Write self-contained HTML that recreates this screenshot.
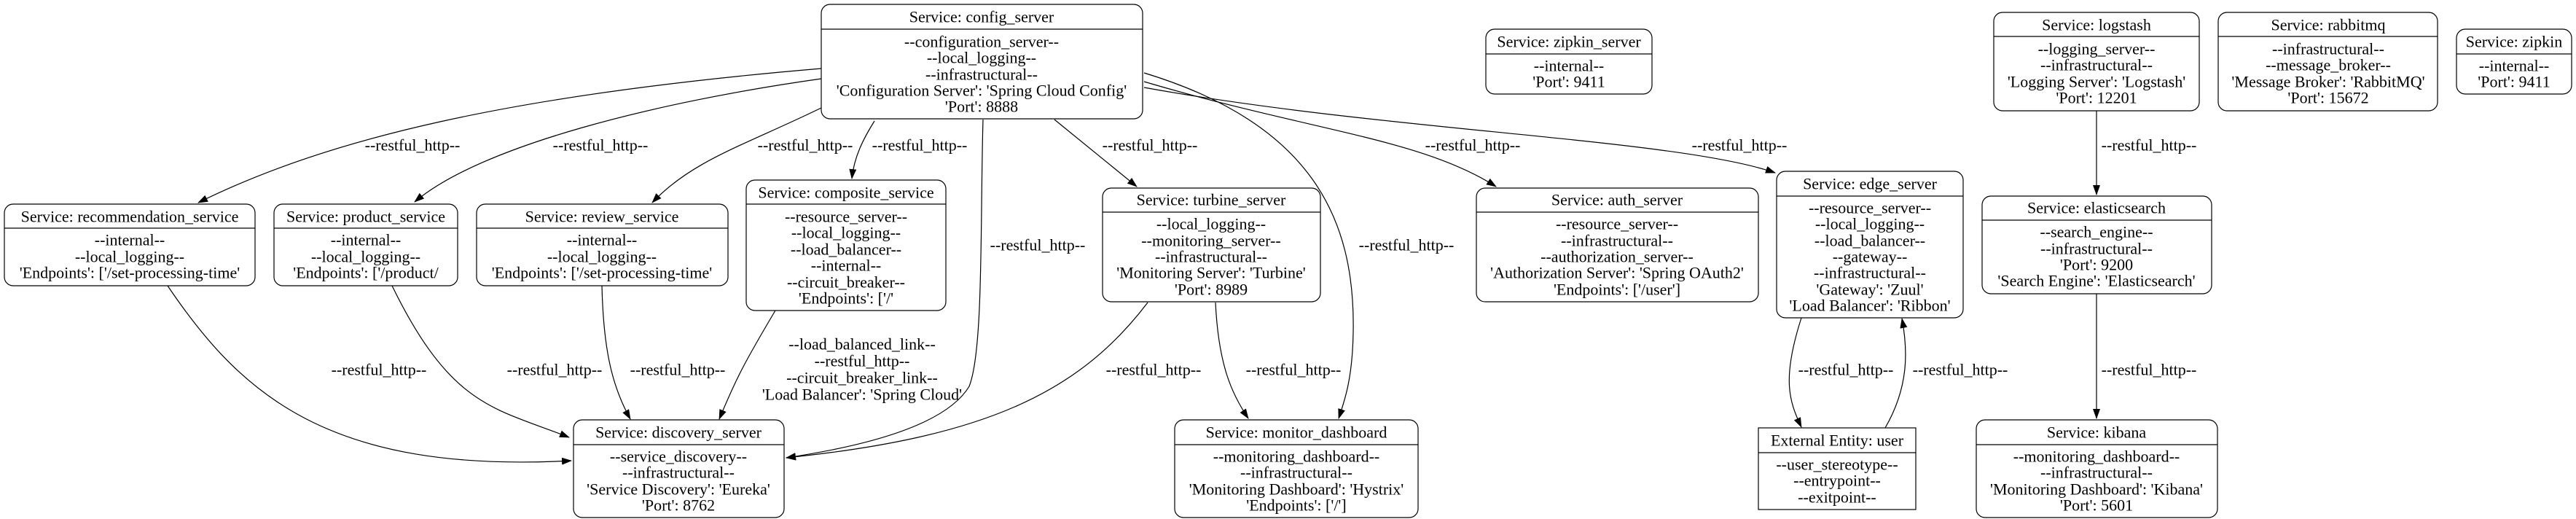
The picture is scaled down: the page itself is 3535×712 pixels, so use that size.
<!DOCTYPE html>
<html><head><meta charset="utf-8"><style>
html,body{margin:0;padding:0;background:#fff;}
svg{display:block;}
text{font-family:"Liberation Serif",serif;font-size:22px;fill:#000;}
</style></head><body>
<svg width="3535" height="712" viewBox="0 0 3535 712" xmlns="http://www.w3.org/2000/svg">
<defs><marker id="a" markerWidth="14" markerHeight="10" refX="13" refY="5" orient="auto" markerUnits="userSpaceOnUse"><path d="M0,0 L14,5 L0,10 Z" fill="#000"/></marker></defs>
<g fill="none" stroke="#000" stroke-width="1.2" marker-end="url(#a)">
<path d="M1127,94 C 700,130 450,190 272,278"/>
<path d="M1127,108 C 900,140 660,200 569,277"/>
<path d="M1127,148 C 1020,200 950,220 895,278"/>
<path d="M1200,166 C 1185,190 1172,215 1169,245"/>
<path d="M1349,164 C 1345,300 1350,480 1330,530 C 1300,580 1200,610 1079,628"/>
<path d="M1447,164 L1560,256"/>
<path d="M1570,100 C 1800,170 1860,300 1857,456 C 1856,520 1845,550 1837,574"/>
<path d="M1570,112 C 1800,180 1950,190 2053,256"/>
<path d="M1570,120 C 1900,180 2300,190 2436,237"/>
<path d="M230,392 C 330,540 450,650 784,632"/>
<path d="M538,392 C 620,560 680,560 781,600"/>
<path d="M826,392 C 828,480 840,530 865,575"/>
<path d="M1064,426 C 1020,500 1010,520 987,575"/>
<path d="M1575,415 C 1480,540 1350,600 1079,628"/>
<path d="M1668,415 C 1672,500 1690,540 1713,574"/>
<path d="M2472,436 C 2445,520 2455,550 2472,586"/>
<path d="M2587,587 C 2620,530 2618,480 2610,437"/>
<path d="M2877,152 L2877,267"/>
<path d="M2877,403 L2877,574"/>
</g>
<g text-anchor="middle" dominant-baseline="central">
<text x="566" y="199">--restful_http--</text>
<text x="824" y="199">--restful_http--</text>
<text x="1105" y="199">--restful_http--</text>
<text x="1262" y="199">--restful_http--</text>
<text x="1578" y="199">--restful_http--</text>
<text x="2021" y="199">--restful_http--</text>
<text x="2387" y="199">--restful_http--</text>
<text x="2949" y="199">--restful_http--</text>
<text x="1424" y="336">--restful_http--</text>
<text x="1930" y="336">--restful_http--</text>
<text x="520" y="507">--restful_http--</text>
<text x="761" y="507">--restful_http--</text>
<text x="930" y="507">--restful_http--</text>
<text x="1583" y="507">--restful_http--</text>
<text x="1775" y="507">--restful_http--</text>
<text x="2533" y="507">--restful_http--</text>
<text x="2690" y="507">--restful_http--</text>
<text x="2949" y="507">--restful_http--</text>
<text x="1183" y="472">--load_balanced_link--</text>
<text x="1183" y="495">--restful_http--</text>
<text x="1183" y="518">--circuit_breaker_link--</text>
<text x="1183" y="541">'Load Balancer': 'Spring Cloud'</text>
</g>
<g fill="#fff" stroke="#000" stroke-width="1.2">
<rect x="1127" y="6" width="441" height="157" rx="12"/><line x1="1127" y1="40" x2="1568" y2="40"/>
<rect x="6" y="280" width="344" height="112" rx="12"/><line x1="6" y1="313" x2="350" y2="313"/>
<rect x="376" y="280" width="252" height="112" rx="12"/><line x1="376" y1="313" x2="628" y2="313"/>
<rect x="654" y="280" width="345" height="112" rx="12"/><line x1="654" y1="313" x2="999" y2="313"/>
<rect x="1024" y="247" width="274" height="179" rx="12"/><line x1="1024" y1="280" x2="1298" y2="280"/>
<rect x="787" y="576" width="289" height="134" rx="12"/><line x1="787" y1="610" x2="1076" y2="610"/>
<rect x="2039" y="40" width="228" height="89" rx="12"/><line x1="2039" y1="74" x2="2267" y2="74"/>
<rect x="1513" y="258" width="299" height="156" rx="12"/><line x1="1513" y1="291" x2="1812" y2="291"/>
<rect x="2026" y="258" width="387" height="156" rx="12"/><line x1="2026" y1="291" x2="2413" y2="291"/>
<rect x="1612" y="576" width="334" height="134" rx="12"/><line x1="1612" y1="610" x2="1946" y2="610"/>
<rect x="2736" y="17" width="282" height="135" rx="12"/><line x1="2736" y1="50" x2="3018" y2="50"/>
<rect x="3044" y="17" width="301" height="135" rx="12"/><line x1="3044" y1="50" x2="3345" y2="50"/>
<rect x="3371" y="40" width="158" height="89" rx="12"/><line x1="3371" y1="74" x2="3529" y2="74"/>
<rect x="2438" y="235" width="256" height="201" rx="12"/><line x1="2438" y1="269" x2="2694" y2="269"/>
<rect x="2720" y="269" width="315" height="134" rx="12"/><line x1="2720" y1="302" x2="3035" y2="302"/>
<rect x="2413" y="587" width="216" height="112"/><line x1="2413" y1="621" x2="2629" y2="621"/>
<rect x="2712" y="576" width="331" height="134" rx="12"/><line x1="2712" y1="610" x2="3043" y2="610"/>
</g>
<g text-anchor="middle" dominant-baseline="central">
<text x="1347" y="23">Service: config_server</text>
<text x="1347" y="57">--configuration_server--</text><text x="1347" y="79">--local_logging--</text><text x="1347" y="102">--infrastructural--</text><text x="1347" y="124">'Configuration Server': 'Spring Cloud Config'</text><text x="1347" y="146">'Port': 8888</text>

<text x="178" y="297">Service: recommendation_service</text>
<text x="178" y="329">--internal--</text><text x="178" y="352">--local_logging--</text><text x="178" y="374">'Endpoints': ['/set-processing-time'</text>

<text x="502" y="297">Service: product_service</text>
<text x="502" y="329">--internal--</text><text x="502" y="352">--local_logging--</text><text x="502" y="374">'Endpoints': ['/product/</text>

<text x="826" y="297">Service: review_service</text>
<text x="826" y="329">--internal--</text><text x="826" y="352">--local_logging--</text><text x="826" y="374">'Endpoints': ['/set-processing-time'</text>

<text x="1161" y="264">Service: composite_service</text>
<text x="1161" y="297">--resource_server--</text><text x="1161" y="319">--local_logging--</text><text x="1161" y="342">--load_balancer--</text><text x="1161" y="364">--internal--</text><text x="1161" y="387">--circuit_breaker--</text><text x="1161" y="409">'Endpoints': ['/'</text>

<text x="931" y="593">Service: discovery_server</text>
<text x="931" y="626">--service_discovery--</text><text x="931" y="648">--infrastructural--</text><text x="931" y="671">'Service Discovery': 'Eureka'</text><text x="931" y="693">'Port': 8762</text>

<text x="2153" y="57">Service: zipkin_server</text>
<text x="2153" y="90">--internal--</text><text x="2153" y="112">'Port': 9411</text>

<text x="1662" y="274">Service: turbine_server</text>
<text x="1662" y="307">--local_logging--</text><text x="1662" y="330">--monitoring_server--</text><text x="1662" y="352">--infrastructural--</text><text x="1662" y="374">'Monitoring Server': 'Turbine'</text><text x="1662" y="397">'Port': 8989</text>

<text x="2219" y="274">Service: auth_server</text>
<text x="2219" y="307">--resource_server--</text><text x="2219" y="330">--infrastructural--</text><text x="2219" y="352">--authorization_server--</text><text x="2219" y="374">'Authorization Server': 'Spring OAuth2'</text><text x="2219" y="397">'Endpoints': ['/user']</text>

<text x="1779" y="593">Service: monitor_dashboard</text>
<text x="1779" y="626">--monitoring_dashboard--</text><text x="1779" y="648">--infrastructural--</text><text x="1779" y="671">'Monitoring Dashboard': 'Hystrix'</text><text x="1779" y="693">'Endpoints': ['/']</text>

<text x="2877" y="34">Service: logstash</text>
<text x="2877" y="67">--logging_server--</text><text x="2877" y="89">--infrastructural--</text><text x="2877" y="112">'Logging Server': 'Logstash'</text><text x="2877" y="134">'Port': 12201</text>

<text x="3195" y="34">Service: rabbitmq</text>
<text x="3195" y="67">--infrastructural--</text><text x="3195" y="89">--message_broker--</text><text x="3195" y="112">'Message Broker': 'RabbitMQ'</text><text x="3195" y="134">'Port': 15672</text>

<text x="3450" y="57">Service: zipkin</text>
<text x="3450" y="90">--internal--</text><text x="3450" y="112">'Port': 9411</text>

<text x="2566" y="252">Service: edge_server</text>
<text x="2566" y="285">--resource_server--</text><text x="2566" y="307">--local_logging--</text><text x="2566" y="330">--load_balancer--</text><text x="2566" y="352">--gateway--</text><text x="2566" y="374">--infrastructural--</text><text x="2566" y="397">'Gateway': 'Zuul'</text><text x="2566" y="419">'Load Balancer': 'Ribbon'</text>

<text x="2877" y="285">Service: elasticsearch</text>
<text x="2877" y="318">--search_engine--</text><text x="2877" y="341">--infrastructural--</text><text x="2877" y="363">'Port': 9200</text><text x="2877" y="385">'Search Engine': 'Elasticsearch'</text>

<text x="2521" y="604">External Entity: user</text>
<text x="2521" y="637">--user_stereotype--</text><text x="2521" y="659">--entrypoint--</text><text x="2521" y="682">--exitpoint--</text>

<text x="2877" y="593">Service: kibana</text>
<text x="2877" y="626">--monitoring_dashboard--</text><text x="2877" y="648">--infrastructural--</text><text x="2877" y="671">'Monitoring Dashboard': 'Kibana'</text><text x="2877" y="693">'Port': 5601</text>
</g>
</svg>
</body></html>
